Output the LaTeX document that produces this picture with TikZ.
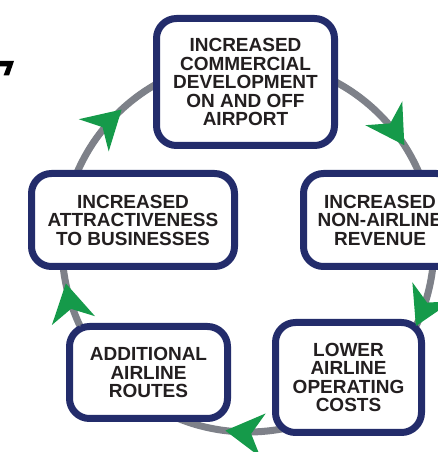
\documentclass[tikz,border=0pt]{standalone}
\usepackage{fontspec}
\setmainfont{Liberation Sans}
\usetikzlibrary{arrows.meta}
\definecolor{boxnavy}{HTML}{232C6B}
\definecolor{ringgrey}{HTML}{7E8189}
\definecolor{arrowgreen}{HTML}{159A4A}
\definecolor{textdark}{HTML}{231F20}
\begin{document}
\begin{tikzpicture}[x=1pt,y=1pt,
   stepbox/.style={draw=boxnavy,line width=7pt,fill=white,rounded corners=20pt,
      align=center,text=textdark,inner sep=0pt,
      font=\bfseries\fontsize{19}{18.5}\selectfont},
   flow/.style={draw=ringgrey,line width=1pt,
      -{Stealth[length=38pt,width=44pt,inset=12pt,line width=0pt,color=arrowgreen]}}]
   \useasboundingbox (0,0) rectangle (438,452);
   \fill[black] (0,391) -- (14,391) -- (9,376.5) -- (3.5,376.5) -- (7,385.5) -- (0,385.5) -- cycle;
   % the cycle ring
   \coordinate (hub) at (248,206);
   \draw[ringgrey,line width=7pt] (hub) circle[radius=186pt];
   \node (devel) at (245.5,370) [stepbox,minimum width=178pt,minimum height=127pt]
      {INCREASED\\COMMERCIAL\\DEVELOPMENT\\ON AND OFF\\AIRPORT};
   \node (revenue) at (380,232) [stepbox,minimum width=153pt,minimum height=93pt]
      {INCREASED\\NON-AIRLINE\\REVENUE};
   \node (costs) at (348.5,74.5) [stepbox,minimum width=146pt,minimum height=110pt]
      {LOWER\\AIRLINE\\OPERATING\\COSTS};
   \node (routes) at (148.5,79.5) [stepbox,minimum width=158pt,minimum height=92pt]
      {ADDITIONAL\\AIRLINE\\ROUTES};
   \node (attract) at (133,232) [stepbox,minimum width=203pt,minimum height=93pt]
      {INCREASED\\ATTRACTIVENESS\\TO BUSINESSES};
   % arrow heads on the ring, clockwise
   \foreach \a in {132.8,32.8,-25.5,-97,-168.4}
      \draw[flow] (hub) ++(\a+14:186pt) arc[start angle=\a+14,end angle=\a,radius=186pt];
\end{tikzpicture}
\end{document}
